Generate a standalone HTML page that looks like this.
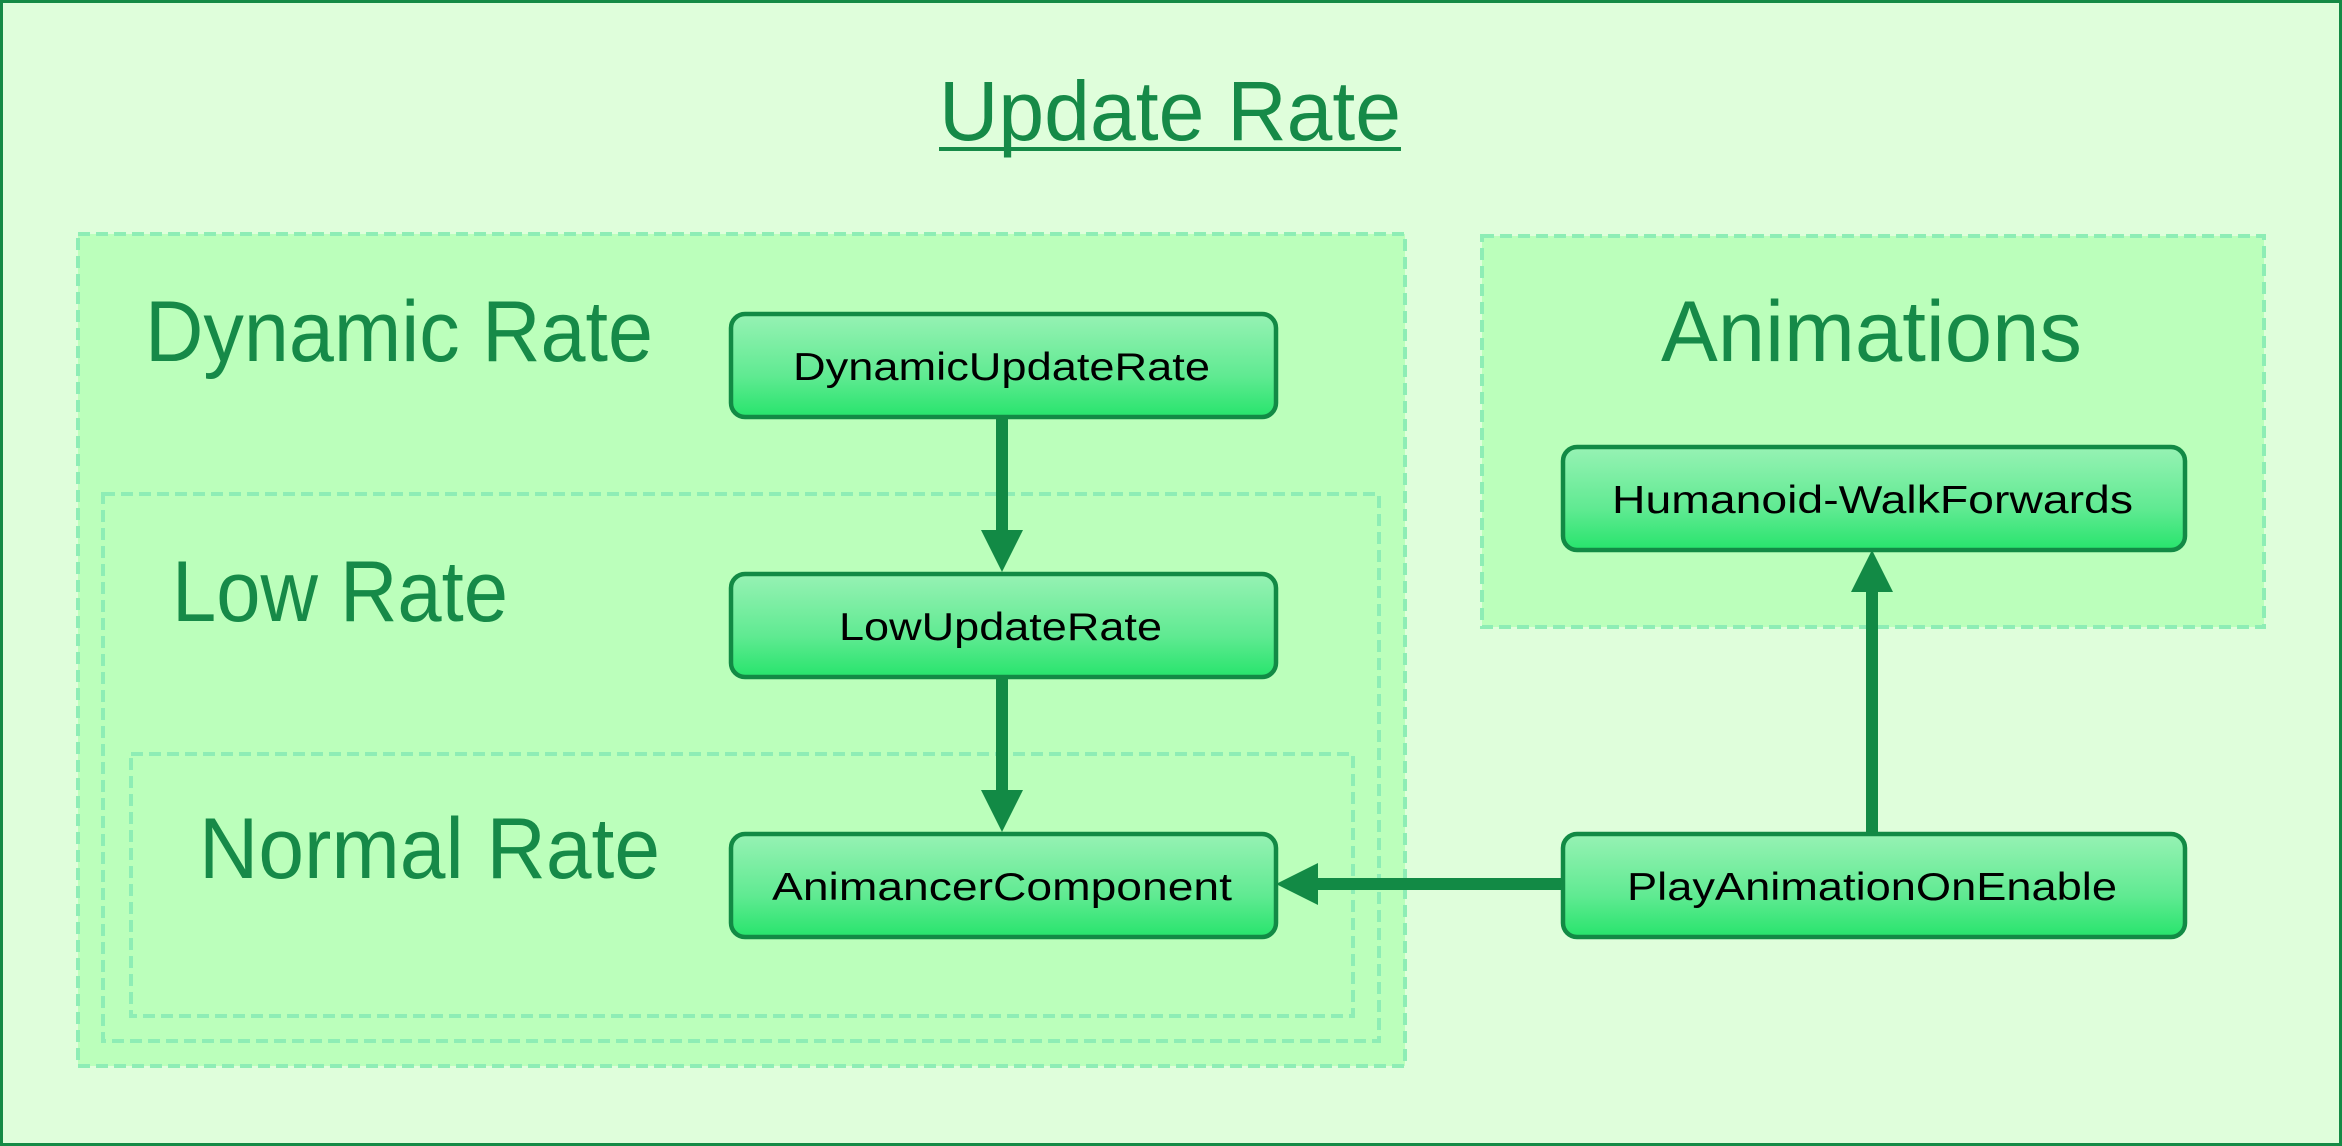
<!DOCTYPE html>
<html><head><meta charset="utf-8"><style>
html,body{margin:0;padding:0;background:#dffedb;}
svg{display:block;}
</style></head><body>
<svg width="2342" height="1146" viewBox="0 0 2342 1146" xmlns="http://www.w3.org/2000/svg" font-family="Liberation Sans, sans-serif">
<defs>
<linearGradient id="g" x1="0" y1="0" x2="0" y2="1">
<stop offset="0" stop-color="#97f2b4"/><stop offset="0.6" stop-color="#60ea92"/><stop offset="1" stop-color="#27e46c"/>
</linearGradient>
</defs>
<rect x="1.5" y="1.5" width="2339" height="1143" fill="#dffedb" stroke="#148a45" stroke-width="3"/>
<text x="1170" y="140" font-size="84" fill="#168a48" text-anchor="middle" textLength="462" lengthAdjust="spacingAndGlyphs">Update Rate</text>
<rect x="939" y="147" width="462" height="4" fill="#168a48"/>

<g fill="#bbffbb" stroke="#8eedb5" stroke-width="4" stroke-dasharray="12,6">
<rect x="78" y="234" width="1327" height="832"/>
<rect x="103" y="494" width="1276" height="547"/>
<rect x="131" y="754" width="1222" height="262"/>
<rect x="1482" y="236" width="782" height="391"/>
</g>

<g font-size="86" fill="#168a48">
<text x="145" y="361" textLength="508" lengthAdjust="spacingAndGlyphs">Dynamic Rate</text>
<text x="172" y="621" textLength="336" lengthAdjust="spacingAndGlyphs">Low Rate</text>
<text x="199" y="878" textLength="461" lengthAdjust="spacingAndGlyphs">Normal Rate</text>
<text x="1661" y="361" textLength="421" lengthAdjust="spacingAndGlyphs">Animations</text>
</g>

<g fill="#128a45" stroke="none">
<rect x="996" y="417" width="12" height="120"/>
<polygon points="981,530 1023,530 1002,572"/>
<rect x="996" y="677" width="12" height="120"/>
<polygon points="981,790 1023,790 1002,832"/>
<rect x="1310" y="878" width="251" height="12"/>
<polygon points="1318,863 1318,905 1276,884"/>
<rect x="1866" y="585" width="12" height="247"/>
<polygon points="1851,592 1893,592 1872,550"/>
</g>

<g fill="url(#g)" stroke="#128a45" stroke-width="4.5">
<rect x="731" y="314" width="545" height="103" rx="14"/>
<rect x="731" y="574" width="545" height="103" rx="14"/>
<rect x="731" y="834" width="545" height="103" rx="14"/>
<rect x="1563" y="447" width="622" height="103" rx="14"/>
<rect x="1563" y="834" width="622" height="103" rx="14"/>
</g>

<g font-size="39" fill="#000">
<text x="793" y="380" textLength="417" lengthAdjust="spacingAndGlyphs">DynamicUpdateRate</text>
<text x="839" y="640" textLength="323" lengthAdjust="spacingAndGlyphs">LowUpdateRate</text>
<text x="772" y="900" textLength="460" lengthAdjust="spacingAndGlyphs">AnimancerComponent</text>
<text x="1612" y="513" textLength="521" lengthAdjust="spacingAndGlyphs">Humanoid-WalkForwards</text>
<text x="1627" y="900" textLength="490" lengthAdjust="spacingAndGlyphs">PlayAnimationOnEnable</text>
</g>
</svg>
</body></html>
